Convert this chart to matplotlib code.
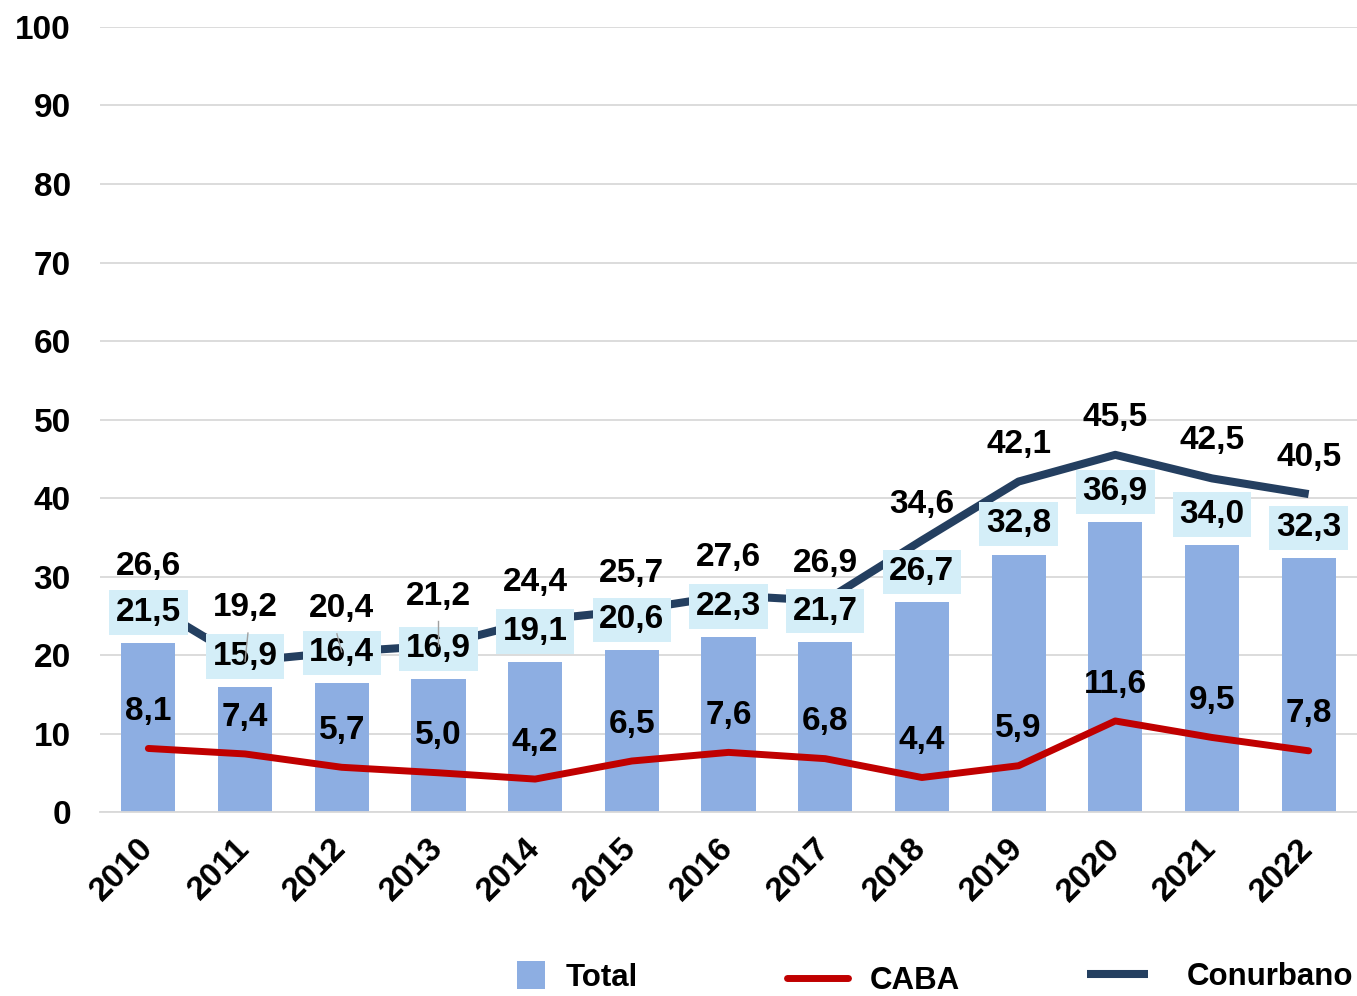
import matplotlib.pyplot as plt
import matplotlib.transforms as mtransforms
import numpy as np

plt.rcParams['font.family'] = ['Liberation Sans', 'DejaVu Sans']
plt.rcParams['font.weight'] = 'bold'

years = ['2010', '2011', '2012', '2013', '2014', '2015', '2016',
         '2017', '2018', '2019', '2020', '2021', '2022']
total = [21.5, 15.9, 16.4, 16.9, 19.1, 20.6, 22.3, 21.7, 26.7, 32.8, 36.9, 34.0, 32.3]
caba = [8.1, 7.4, 5.7, 5.0, 4.2, 6.5, 7.6, 6.8, 4.4, 5.9, 11.6, 9.5, 7.8]
conurbano = [26.6, 19.2, 20.4, 21.2, 24.4, 25.7, 27.6, 26.9, 34.6, 42.1, 45.5, 42.5, 40.5]

# label offsets above the point (data units); a few were moved by hand
conu_off = [4.7, 6.8, 5.5, 6.3, 4.8, 4.7, 4.8, 4.7, 4.6, 4.7, 4.8, 4.8, 4.7]

def fmt(v):
    return f"{v:.1f}".replace('.', ',')

fig = plt.figure(figsize=(13.57, 9.96), dpi=100)
ax = fig.add_axes([0.0737, 0.1847, 0.9263, 0.7882])

x = np.arange(len(years))
bars = ax.bar(x, total, width=0.56, color='#8DAEE2', zorder=2)
conu_line, = ax.plot(x, conurbano, color='#243F60', lw=5.8, zorder=3,
                     solid_capstyle='butt')
caba_line, = ax.plot(x, caba, color='#C00000', lw=5, zorder=5,
                     solid_capstyle='round')

for i, v in enumerate(total):
    ax.text(x[i], v + 3.9, fmt(v), ha='center', va='center', fontsize=24,
            fontweight='bold', zorder=4,
            bbox=dict(boxstyle='square,pad=0.2', fc='#D4EEF8', ec='none'))

for i, v in enumerate(conurbano):
    off = conu_off[i]
    ax.text(x[i], v + off, fmt(v), ha='center', va='center', fontsize=24,
            fontweight='bold', zorder=6)
    if off > 5:
        ax.plot([x[i] + (0.03 if i == 1 else (-0.05 if i == 2 else 0)), x[i]],
                [v + off - 3.2, v], color='#A0A0A0', lw=1, zorder=4.5)

for i, v in enumerate(caba):
    ax.text(x[i], v + 4.7, fmt(v), ha='center', va='center', fontsize=24,
            fontweight='bold', zorder=6)

ax.set_xlim(-0.5, len(years) - 0.5)
ax.set_ylim(0, 100)
ax.set_yticks(np.arange(0, 101, 10))
ax.yaxis.grid(True, color='#D9D9D9', lw=1.3, zorder=0)
ax.set_axisbelow(True)
for s in ['top', 'right', 'left']:
    ax.spines[s].set_visible(False)
ax.spines['bottom'].set_color('#D9D9D9')
ax.spines['bottom'].set_linewidth(1.3)
ax.tick_params(axis='both', length=0, labelsize=24)
ax.tick_params(axis='y', pad=21)
ax.tick_params(axis='x', pad=15)
ax.set_xticks(x)
ax.set_xticklabels(years, rotation=45, ha='right', rotation_mode='anchor',
                   fontweight='bold')
shift = mtransforms.ScaledTranslation(-8 / 72, 0, fig.dpi_scale_trans)
for lbl in ax.get_xticklabels():
    lbl.set_transform(lbl.get_transform() + shift)
for lbl in ax.get_yticklabels():
    lbl.set_fontweight('bold')

leg_kw = dict(frameon=False, borderpad=0, borderaxespad=0, loc='center left',
              prop={'weight': 'bold', 'size': 22.5})
l1 = fig.legend([bars], ['Total'], bbox_to_anchor=(0.381, 0.019),
                handlelength=0.9, handleheight=1.0, handletextpad=0.65, **leg_kw)
l2 = fig.legend([caba_line], ['CABA'], bbox_to_anchor=(0.58, 0.015),
                handlelength=1.96, handletextpad=0.69, **leg_kw)
l3 = fig.legend([conu_line], ['Conurbano'], bbox_to_anchor=(0.801, 0.019),
                handlelength=1.96, handletextpad=1.24, **leg_kw)

fig.savefig('out.png', dpi=100)
